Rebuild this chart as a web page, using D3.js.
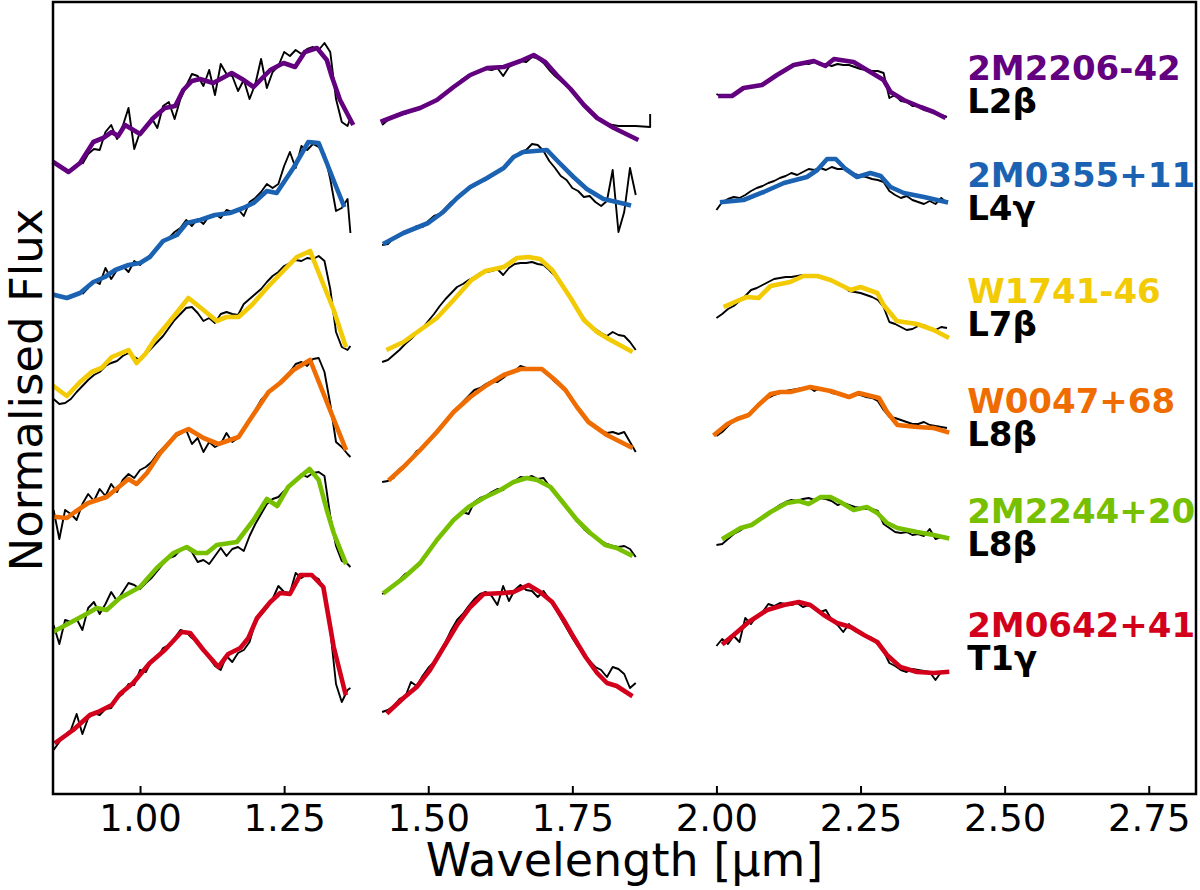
<!DOCTYPE html>
<html>
<head>
<meta charset="utf-8">
<script src="https://cdn.jsdelivr.net/npm/d3@7/dist/d3.min.js"></script>
<style>
  body { margin: 0; background: #fff; }
  svg { font-family: "DejaVu Sans", sans-serif; }
</style>
</head>
<body>
<div id="graph"></div>
<script>
// Globals
// wavelength grids (um) of the observed spectra, one per band
var waveJ = [0.85, 0.86, 0.87, 0.88, 0.89, 0.90, 0.91, 0.92, 0.93, 0.94, 0.95, 0.96, 0.97, 0.98, 0.99,
  1.00, 1.01, 1.02, 1.03, 1.04, 1.05, 1.06, 1.07, 1.08, 1.09, 1.10, 1.11, 1.12, 1.13, 1.14, 1.15,
  1.16, 1.17, 1.18, 1.19, 1.20, 1.21, 1.22, 1.23, 1.24, 1.25, 1.26, 1.27, 1.28, 1.29, 1.30, 1.31,
  1.32, 1.33, 1.34, 1.35, 1.36, 1.365];
var waveH = [1.42, 1.43, 1.44, 1.45, 1.46, 1.47, 1.48, 1.49, 1.50, 1.51, 1.52, 1.53, 1.54, 1.55, 1.56,
  1.57, 1.58, 1.59, 1.60, 1.61, 1.62, 1.63, 1.64, 1.65, 1.66, 1.67, 1.68, 1.69, 1.70, 1.71, 1.72,
  1.73, 1.74, 1.75, 1.76, 1.77, 1.78, 1.79, 1.80, 1.81, 1.82, 1.83, 1.84, 1.85, 1.86];
var waveK = [2.00, 2.01, 2.02, 2.03, 2.04, 2.05, 2.06, 2.07, 2.08, 2.09, 2.10, 2.11, 2.12, 2.13, 2.14,
  2.15, 2.16, 2.17, 2.18, 2.19, 2.20, 2.21, 2.22, 2.23, 2.24, 2.25, 2.26, 2.27, 2.28, 2.29, 2.30,
  2.31, 2.32, 2.33, 2.34, 2.35, 2.36, 2.37, 2.38, 2.39, 2.40];

var names = ["2M2206-42", "2M0355+11", "W1741-46", "W0047+68", "2M2244+20", "2M0642+41"];
var spts = ["L2β", "L4γ", "L7β", "L8β", "L8β", "T1γ"];
var colors = ["#62007f", "#1b63b2", "#f2cb05", "#ef6c00", "#76c000", "#d3001c"];
var labelFlux = [7.14, 6.07, 4.91, 3.81, 2.71, 1.57];
var labelWave = 2.435;
var xTicks = [1.00, 1.25, 1.50, 1.75, 2.00, 2.25, 2.50, 2.75];

// observed spectra (normalised flux + offset), on the grids above
var obs2206J = [null, null, null, null, null, 6.30, 6.40, 6.45, 6.44, 6.62, 6.69, 6.55, 6.68, 6.86, 6.45,
  6.62, 6.66, 6.76, 6.66, 6.88, 6.92, 6.75, 6.95, 7.08, 7.20, 7.18, 7.08, 7.24, 6.99, 7.30, 7.20,
  7.18, 7.03, 7.14, 6.95, 7.10, 7.35, 7.06, 7.22, 7.28, 7.42, 7.38, 7.44, 7.40, 7.45, 7.47, 7.44,
  7.51, 7.42, 6.95, 6.72, 6.68, 6.76];
var obs2206H = [6.69, 6.74, 6.78, 6.80, 6.80, 6.83, 6.84, 6.88, 6.90, 6.92, 6.97, 7.01, 7.06, 7.10, 7.15,
  7.19, 7.20, 7.24, 7.25, 7.24, 7.26, 7.18, 7.27, 7.30, 7.33, 7.32, 7.37, 7.36, 7.31, 7.24, 7.18,
  7.13, 7.08, 7.03, 6.95, 6.88, 6.82, 6.77, 6.74, 6.70, 6.69, 6.68, 6.68, 6.68, 6.68];
var obs2206Htail = [[1.885, 6.67], [1.885, 6.80]];
var obs2206K = [7.00, 6.97, 6.99, 6.98, 7.03, 7.06, 7.07, 7.08, 7.10, 7.13, 7.17, 7.21, 7.25, 7.28, 7.30,
  7.31, 7.30, 7.32, 7.29, 7.30, 7.28, 7.30, 7.29, 7.29, 7.27, 7.25, 7.24, 7.23, 7.23, 7.21, 6.96,
  6.99, 6.93, 6.92, 6.88, 6.88, 6.84, 6.83, 6.80, 6.79, 6.77];

var obs0355J = [null, null, null, null, null, 5.00, 5.06, 5.13, 5.10, 5.26, 5.15, 5.24, 5.28, 5.22, 5.33,
  5.29, 5.35, 5.40, 5.45, 5.52, 5.56, 5.62, 5.66, 5.74, 5.68, 5.75, 5.70, 5.78, 5.80, 5.76, 5.84,
  5.82, 5.85, 5.78, 5.92, 5.96, 6.02, 6.10, 6.06, 6.10, 6.28, 6.42, 6.26, 6.48, 6.44, 6.50, 6.47,
  6.40, 6.15, 5.83, 5.86, 5.95, 5.61];
var obs0355H = [5.49, 5.50, 5.56, 5.58, 5.62, 5.64, 5.68, 5.67, 5.73, 5.78, 5.80, 5.86, 5.92, 5.96, 6.02,
  6.05, 6.08, 6.12, 6.14, 6.18, 6.22, 6.26, 6.31, 6.37, 6.42, 6.44, 6.50, 6.49, 6.43, 6.33, 6.26,
  6.18, 6.14, 6.06, 6.03, 5.97, 5.98, 5.92, 5.88, 5.93, 6.24, 5.62, 5.82, 6.26, 5.99];
var obs0355K = [5.84, 5.92, 5.95, 5.97, 5.96, 5.99, 6.03, 6.06, 6.08, 6.11, 6.13, 6.16, 6.18, 6.21, 6.19,
  6.22, 6.25, 6.24, 6.26, 6.24, 6.27, 6.25, 6.25, 6.22, 6.20, 6.18, 6.17, 6.15, 6.14, 6.12, 6.03,
  5.99, 5.96, 5.98, 5.94, 5.92, 5.90, 5.93, 5.90, 5.96, 5.91];

var obs1741J = [3.95, 3.90, 3.91, 3.95, 4.02, 4.08, 4.14, 4.19, 4.22, 4.28, 4.31, 4.33, 4.38, 4.41, 4.37,
  4.34, 4.40, 4.46, 4.52, 4.58, 4.66, 4.74, 4.80, 4.86, 4.87, 4.81, 4.73, 4.76, 4.71, 4.80, 4.82,
  4.80, 4.79, 4.90, 4.95, 5.00, 5.05, 5.12, 5.18, 5.22, 5.28, 5.31, 5.34, 5.33, 5.36, 5.35, 5.38,
  5.33, 5.05, 4.62, 4.47, 4.44, 4.48];
var obs1741H = [4.32, 4.34, 4.39, 4.44, 4.50, 4.55, 4.61, 4.66, 4.73, 4.80, 4.88, 4.95, 5.01, 5.07, 5.10,
  5.14, 5.17, 5.21, 5.22, 5.23, 5.25, 5.19, 5.26, 5.30, 5.31, 5.31, 5.32, 5.30, 5.29, 5.24, 5.18,
  5.10, 5.02, 4.94, 4.84, 4.76, 4.69, 4.65, 4.61, 4.58, 4.62, 4.59, 4.58, 4.52, 4.44];
var obs1741K = [4.76, 4.80, 4.85, 4.88, 4.93, 4.98, 5.04, 5.06, 5.09, 5.12, 5.15, 5.16, 5.17, 5.17, 5.18,
  5.19, 5.18, 5.17, 5.17, 5.15, 5.14, 5.11, 5.08, 5.03, 5.02, 5.01, 4.99, 4.97, 4.94, 4.87, 4.72,
  4.70, 4.67, 4.64, 4.65, 4.68, 4.69, 4.66, 4.64, 4.67, 4.66];

var obs0047J = [2.84, 2.55, 2.84, 2.80, 2.74, 2.90, 3.00, 2.93, 3.05, 2.98, 3.10, 3.02, 3.14, 3.20, 3.16,
  3.24, 3.27, 3.32, 3.40, 3.46, 3.52, 3.57, 3.60, 3.64, 3.50, 3.56, 3.42, 3.52, 3.47, 3.50, 3.61,
  3.52, 3.56, 3.64, 3.73, 3.84, 3.94, 4.00, 4.05, 4.10, 4.16, 4.22, 4.30, 4.32, 4.28, 4.35, 4.36,
  4.22, 3.90, 3.52, 3.47, 3.40, 3.37];
var obs0047H = [3.12, 3.13, 3.16, 3.25, 3.29, 3.35, 3.43, 3.46, 3.52, 3.60, 3.66, 3.73, 3.80, 3.86, 3.92,
  3.98, 4.04, 4.06, 4.10, 4.13, 4.12, 4.16, 4.21, 4.23, 4.28, 4.26, 4.25, 4.26, 4.23, 4.18, 4.12,
  4.08, 4.02, 3.93, 3.86, 3.78, 3.71, 3.66, 3.63, 3.61, 3.62, 3.60, 3.62, 3.52, 3.42];
var obs0047K = [3.58, 3.62, 3.68, 3.73, 3.76, 3.78, 3.82, 3.88, 3.93, 3.96, 3.99, 4.01, 4.03, 4.04, 4.05,
  4.06, 4.07, 4.03, 4.06, 4.04, 4.01, 4.00, 3.98, 3.97, 4.00, 3.99, 3.97, 3.96, 3.93, 3.84, 3.77,
  3.76, 3.74, 3.72, 3.70, 3.70, 3.72, 3.69, 3.68, 3.67, 3.66];

var obs2244J = [1.69, 1.50, 1.74, 1.72, 1.75, 1.64, 1.86, 1.92, 1.80, 1.90, 2.02, 1.93, 2.02, 2.11, 2.09,
  2.05, 2.11, 2.16, 2.23, 2.30, 2.36, 2.38, 2.44, 2.46, 2.42, 2.32, 2.34, 2.30, 2.38, 2.46, 2.38,
  2.45, 2.47, 2.43, 2.58, 2.70, 2.80, 2.90, 2.95, 2.97, 3.03, 3.08, 3.13, 3.20, 3.17, 3.21, 3.22,
  3.18, 2.78, 2.48, 2.33, 2.30, 2.27];
var obs2244H = [2.00, 2.03, 2.09, 2.14, 2.20, 2.22, 2.27, 2.34, 2.43, 2.50, 2.58, 2.64, 2.72, 2.78, 2.82,
  2.80, 2.92, 2.96, 2.98, 3.02, 3.05, 3.04, 3.10, 3.13, 3.17, 3.16, 3.18, 3.15, 3.16, 3.08, 3.02,
  2.95, 2.88, 2.80, 2.72, 2.65, 2.60, 2.57, 2.53, 2.50, 2.48, 2.47, 2.48, 2.45, 2.37];
var obs2244K = [2.49, 2.50, 2.55, 2.60, 2.63, 2.67, 2.69, 2.73, 2.77, 2.81, 2.85, 2.89, 2.92, 2.94, 2.93,
  2.95, 2.96, 2.94, 2.96, 2.95, 2.93, 2.89, 2.91, 2.89, 2.87, 2.86, 2.85, 2.85, 2.83, 2.70, 2.66,
  2.62, 2.61, 2.62, 2.59, 2.60, 2.58, 2.65, 2.55, 2.57, 2.56];

var obs0642J = [0.44, 0.52, 0.59, 0.64, 0.80, 0.60, 0.76, 0.81, 0.79, 0.85, 0.86, 0.96, 1.00, 1.10, 1.09,
  1.24, 1.22, 1.33, 1.36, 1.46, 1.49, 1.56, 1.64, 1.62, 1.56, 1.52, 1.45, 1.36, 1.28, 1.24, 1.38,
  1.32, 1.41, 1.44, 1.52, 1.72, 1.79, 1.86, 1.95, 2.08, 2.02, 2.01, 2.21, 2.16, 2.20, 2.18, 2.15,
  2.02, 1.64, 1.10, 0.92, 1.04, 1.06];
var obs0642H = [0.82, 0.84, 0.88, 0.95, 0.97, 1.12, 1.08, 1.18, 1.26, 1.32, 1.42, 1.52, 1.64, 1.74, 1.80,
  1.88, 1.95, 2.00, 2.02, 1.98, 1.89, 2.08, 1.93, 2.04, 2.09, 2.04, 2.03, 1.97, 2.03, 1.95, 1.86,
  1.76, 1.66, 1.56, 1.47, 1.40, 1.33, 1.27, 1.24, 1.17, 1.27, 1.25, 1.20, 1.06, 1.11];
var obs0642K = [1.48, 1.55, 1.50, 1.58, 1.52, 1.76, 1.70, 1.78, 1.82, 1.90, 1.88, 1.91, 1.90, 1.89, 1.91,
  1.87, 1.89, 1.85, 1.82, 1.84, 1.74, 1.69, 1.62, 1.70, 1.63, 1.60, 1.58, 1.56, 1.50, 1.43, 1.31,
  1.28, 1.24, 1.22, 1.25, 1.24, 1.23, 1.22, 1.14, 1.22, 1.22];

// best fitting model spectra, [wavelength, flux]
var mod2206J = [[0.852, 6.31], [0.876, 6.22], [0.896, 6.31], [0.919, 6.52], [0.936, 6.56], [0.951, 6.62],
  [0.962, 6.58], [0.974, 6.69], [1.000, 6.60], [1.023, 6.76], [1.043, 6.86], [1.061, 6.88], [1.075, 7.04],
  [1.090, 7.13], [1.104, 7.15], [1.127, 7.11], [1.159, 7.21], [1.177, 7.15], [1.197, 7.07], [1.226, 7.24],
  [1.249, 7.31], [1.269, 7.27], [1.286, 7.42], [1.307, 7.46], [1.324, 7.34], [1.333, 7.17], [1.347, 6.94],
  [1.368, 6.71]];
var mod2206H = [[1.421, 6.73], [1.457, 6.81], [1.486, 6.86], [1.515, 6.94], [1.544, 7.07], [1.573, 7.19],
  [1.602, 7.26], [1.631, 7.27], [1.660, 7.33], [1.683, 7.39], [1.703, 7.32], [1.723, 7.19], [1.747, 7.05],
  [1.770, 6.89], [1.793, 6.76], [1.822, 6.66], [1.861, 6.55]];
var mod2206K = [[2.007, 6.98], [2.027, 6.98], [2.047, 7.06], [2.079, 7.09], [2.105, 7.19], [2.134, 7.29],
  [2.169, 7.33], [2.189, 7.28], [2.204, 7.35], [2.238, 7.32], [2.267, 7.22], [2.290, 7.14], [2.302, 7.02],
  [2.325, 6.94], [2.354, 6.87], [2.377, 6.82], [2.394, 6.77]];

var mod0355J = [[0.852, 4.99], [0.873, 4.96], [0.896, 5.01], [0.919, 5.12], [0.939, 5.17], [0.957, 5.24],
  [0.980, 5.29], [1.000, 5.31], [1.017, 5.37], [1.040, 5.53], [1.064, 5.59], [1.081, 5.71], [1.104, 5.74],
  [1.130, 5.79], [1.156, 5.81], [1.179, 5.86], [1.197, 5.91], [1.220, 6.03], [1.237, 6.01], [1.266, 6.26],
  [1.292, 6.52], [1.310, 6.51], [1.324, 6.31], [1.339, 6.09], [1.353, 5.89]];
var mod0355H = [[1.425, 5.51], [1.457, 5.61], [1.500, 5.71], [1.526, 5.82], [1.550, 5.96], [1.573, 6.07],
  [1.602, 6.16], [1.631, 6.26], [1.648, 6.37], [1.665, 6.42], [1.706, 6.44], [1.726, 6.32], [1.752, 6.17],
  [1.775, 6.05], [1.804, 5.95], [1.827, 5.92], [1.848, 5.89]];
var mod0355K = [[2.010, 5.92], [2.047, 5.94], [2.082, 6.02], [2.117, 6.11], [2.157, 6.17], [2.175, 6.24],
  [2.192, 6.35], [2.207, 6.35], [2.224, 6.25], [2.244, 6.17], [2.267, 6.21], [2.285, 6.18], [2.302, 6.07],
  [2.325, 6.01], [2.360, 5.97], [2.398, 5.92]];

var mod1741J = [[0.852, 4.07], [0.873, 3.98], [0.896, 4.12], [0.916, 4.22], [0.933, 4.26], [0.951, 4.37],
  [0.980, 4.44], [0.994, 4.31], [1.009, 4.40], [1.026, 4.55], [1.052, 4.73], [1.084, 4.96], [1.110, 4.84],
  [1.133, 4.73], [1.150, 4.77], [1.171, 4.77], [1.194, 4.89], [1.220, 5.06], [1.250, 5.24], [1.272, 5.37],
  [1.295, 5.43], [1.315, 5.14], [1.336, 4.84], [1.356, 4.49]];
var mod1741H = [[1.431, 4.45], [1.457, 4.52], [1.486, 4.64], [1.515, 4.76], [1.544, 4.94], [1.575, 5.14],
  [1.599, 5.23], [1.631, 5.27], [1.654, 5.36], [1.674, 5.37], [1.694, 5.35], [1.715, 5.24], [1.747, 4.96],
  [1.770, 4.74], [1.793, 4.62], [1.813, 4.55], [1.851, 4.43]];
var mod1741K = [[2.016, 4.88], [2.036, 4.93], [2.053, 4.97], [2.073, 4.96], [2.094, 5.08], [2.128, 5.12],
  [2.151, 5.18], [2.175, 5.18], [2.198, 5.14], [2.233, 5.04], [2.250, 5.07], [2.279, 5.01], [2.290, 4.89],
  [2.313, 4.73], [2.348, 4.70], [2.377, 4.64], [2.400, 4.57]];

var mod0047J = [[0.855, 2.77], [0.873, 2.76], [0.887, 2.82], [0.910, 2.91], [0.942, 2.97], [0.980, 3.15],
  [0.994, 3.10], [1.012, 3.21], [1.035, 3.41], [1.064, 3.60], [1.084, 3.65], [1.110, 3.56], [1.136, 3.50],
  [1.171, 3.57], [1.188, 3.72], [1.223, 4.02], [1.243, 4.11], [1.266, 4.24], [1.295, 4.34], [1.356, 3.46]];
var mod0047H = [[1.434, 3.15], [1.457, 3.27], [1.486, 3.44], [1.515, 3.62], [1.544, 3.82], [1.573, 3.97],
  [1.602, 4.09], [1.631, 4.19], [1.660, 4.25], [1.697, 4.25], [1.718, 4.15], [1.738, 4.04], [1.758, 3.87],
  [1.778, 3.72], [1.810, 3.59], [1.851, 3.47]];
var mod0047K = [[1.998, 3.60], [2.019, 3.70], [2.036, 3.75], [2.056, 3.79], [2.073, 3.89], [2.094, 4.00],
  [2.111, 4.02], [2.128, 4.02], [2.163, 4.07], [2.198, 4.03], [2.230, 3.97], [2.247, 4.01], [2.282, 3.96],
  [2.296, 3.82], [2.314, 3.69], [2.348, 3.67], [2.377, 3.66], [2.400, 3.62]];

var mod2244J = [[0.852, 1.63], [0.881, 1.72], [0.907, 1.80], [0.925, 1.86], [0.942, 1.84], [0.965, 1.96],
  [1.000, 2.07], [1.029, 2.26], [1.058, 2.41], [1.081, 2.47], [1.098, 2.41], [1.116, 2.41], [1.133, 2.49],
  [1.168, 2.52], [1.197, 2.74], [1.220, 2.95], [1.238, 2.88], [1.257, 3.07], [1.275, 3.16], [1.294, 3.25],
  [1.310, 3.14], [1.324, 2.84], [1.336, 2.61], [1.356, 2.32]];
var mod2244H = [[1.425, 2.02], [1.457, 2.16], [1.486, 2.31], [1.515, 2.54], [1.544, 2.74], [1.570, 2.87],
  [1.596, 2.96], [1.625, 3.04], [1.648, 3.12], [1.671, 3.16], [1.689, 3.14], [1.712, 3.07], [1.733, 2.92],
  [1.758, 2.74], [1.781, 2.61], [1.807, 2.49], [1.827, 2.46], [1.851, 2.39]];
var mod2244K = [[2.013, 2.56], [2.042, 2.66], [2.061, 2.69], [2.094, 2.82], [2.122, 2.91], [2.143, 2.93],
  [2.160, 2.90], [2.181, 2.97], [2.198, 2.97], [2.215, 2.92], [2.238, 2.84], [2.261, 2.87], [2.279, 2.81],
  [2.296, 2.71], [2.314, 2.66], [2.348, 2.62], [2.377, 2.59], [2.400, 2.56]];

var mod0642J = [[0.855, 0.52], [0.884, 0.64], [0.913, 0.79], [0.927, 0.82], [0.951, 0.89], [0.965, 1.00],
  [0.988, 1.11], [1.017, 1.31], [1.043, 1.44], [1.072, 1.62], [1.087, 1.61], [1.110, 1.44], [1.136, 1.27],
  [1.153, 1.40], [1.174, 1.46], [1.188, 1.56], [1.203, 1.76], [1.226, 1.92], [1.243, 2.01], [1.260, 2.00],
  [1.278, 2.19], [1.298, 2.19], [1.318, 2.07], [1.336, 1.47], [1.356, 1.01]];
var mod0642H = [[1.431, 0.82], [1.457, 0.96], [1.480, 1.07], [1.503, 1.24], [1.527, 1.47], [1.550, 1.69],
  [1.573, 1.87], [1.596, 2.00], [1.631, 2.01], [1.648, 2.02], [1.674, 2.09], [1.694, 2.02], [1.715, 1.92],
  [1.735, 1.74], [1.752, 1.57], [1.773, 1.37], [1.793, 1.21], [1.810, 1.11], [1.827, 1.08], [1.851, 0.99]];
var mod0642K = [[2.013, 1.51], [2.036, 1.62], [2.056, 1.72], [2.088, 1.84], [2.117, 1.89], [2.143, 1.92],
  [2.163, 1.89], [2.186, 1.79], [2.209, 1.71], [2.233, 1.67], [2.256, 1.59], [2.279, 1.52], [2.296, 1.39],
  [2.319, 1.27], [2.348, 1.22], [2.377, 1.21], [2.400, 1.22]];

function zipGrid(grid, flux){
  /* pairs up a band grid with observed flux values -> [[w, f], ...] */
  return grid.map(function(w, i){ return [w, flux[i]]; });
}

// one row per object: observed J/H/K, model J/H/K
var observed = [
  [zipGrid(waveJ, obs2206J), zipGrid(waveH, obs2206H).concat(obs2206Htail), zipGrid(waveK, obs2206K)],
  [zipGrid(waveJ, obs0355J), zipGrid(waveH, obs0355H), zipGrid(waveK, obs0355K)],
  [zipGrid(waveJ, obs1741J), zipGrid(waveH, obs1741H), zipGrid(waveK, obs1741K)],
  [zipGrid(waveJ, obs0047J), zipGrid(waveH, obs0047H), zipGrid(waveK, obs0047K)],
  [zipGrid(waveJ, obs2244J), zipGrid(waveH, obs2244H), zipGrid(waveK, obs2244K)],
  [zipGrid(waveJ, obs0642J), zipGrid(waveH, obs0642H), zipGrid(waveK, obs0642K)]
];
var models = [
  [mod2206J, mod2206H, mod2206K],
  [mod0355J, mod0355H, mod0355K],
  [mod1741J, mod1741H, mod1741K],
  [mod0047J, mod0047H, mod0047K],
  [mod2244J, mod2244H, mod2244K],
  [mod0642J, mod0642H, mod0642K]
];

displayGraph();

function displayGraph(){
  var W = 1200, H = 890;
  var margin = {top: 2, right: 4, bottom: 96, left: 53},
    width = W - margin.left - margin.right,
    height = H - margin.top - margin.bottom;

  var svg = d3.select("#graph")
    .append("svg")
      .attr("width", W)
      .attr("height", H)
    .append("g")
      .attr("transform", "translate(" + margin.left + "," + margin.top + ")");

  var x = d3.scaleLinear()
    .domain([0.849, 2.832])
    .range([0, width]);

  var y = d3.scaleLinear()
    .domain([0, 7.92])
    .range([height, 0]);

  var line = d3.line()
    .defined(function(d){ return d[1] !== null; })
    .x(function(d){ return x(d[0]); })
    .y(function(d){ return y(d[1]); });

  // observed spectra in black, underneath
  observed.forEach(function(bands){
    svg.append("g")
      .selectAll("path")
      .data(bands)
      .enter()
      .append("path")
        .attr("d", line)
        .attr("fill", "none")
        .attr("stroke", "#000")
        .attr("stroke-width", 1.9)
        .attr("stroke-linejoin", "round");
  });

  // model fits in colour
  models.forEach(function(bands, i){
    svg.append("g")
      .selectAll("path")
      .data(bands)
      .enter()
      .append("path")
        .attr("d", line)
        .attr("fill", "none")
        .attr("stroke", colors[i])
        .attr("stroke-width", 4.6)
        .attr("stroke-linejoin", "round")
        .attr("stroke-linecap", "square");
  });

  // object names and spectral types
  var labels = svg.append("g")
    .attr("font-size", 34)
    .attr("font-weight", "bold");
  names.forEach(function(name, i){
    labels.append("text")
      .attr("x", x(labelWave))
      .attr("y", y(labelFlux[i]))
      .attr("fill", colors[i])
      .text(name);
    labels.append("text")
      .attr("x", x(labelWave))
      .attr("y", y(labelFlux[i]) + 33)
      .attr("fill", "#000")
      .text(spts[i]);
  });

  // X axis, ticks pointing in
  var xAxis = svg.append("g")
    .attr("transform", "translate(0," + height + ")")
    .call(d3.axisBottom(x)
      .tickValues(xTicks)
      .tickFormat(d3.format(".2f"))
      .tickSizeInner(-8)
      .tickSizeOuter(0)
      .tickPadding(11));
  xAxis.select(".domain").remove();
  xAxis.selectAll(".tick line").attr("stroke", "#000").attr("stroke-width", 2);
  xAxis.selectAll(".tick text")
    .attr("fill", "#000")
    .attr("font-size", 37)
    .attr("font-family", "DejaVu Sans, sans-serif");

  // frame
  svg.append("rect")
    .attr("x", 0)
    .attr("y", 0)
    .attr("width", width)
    .attr("height", height)
    .attr("fill", "none")
    .attr("stroke", "#000")
    .attr("stroke-width", 2.5);

  svg.append("text")
    .attr("x", width / 2)
    .attr("y", height + 82)
    .attr("text-anchor", "middle")
    .attr("font-size", 46)
    .text("Wavelength [µm]");

  svg.append("text")
    .attr("transform", "rotate(-90)")
    .attr("x", -390 + margin.top)
    .attr("y", 42 - margin.left)
    .attr("text-anchor", "middle")
    .attr("font-size", 45)
    .text("Normalised Flux");
}
</script>
</body>
</html>
